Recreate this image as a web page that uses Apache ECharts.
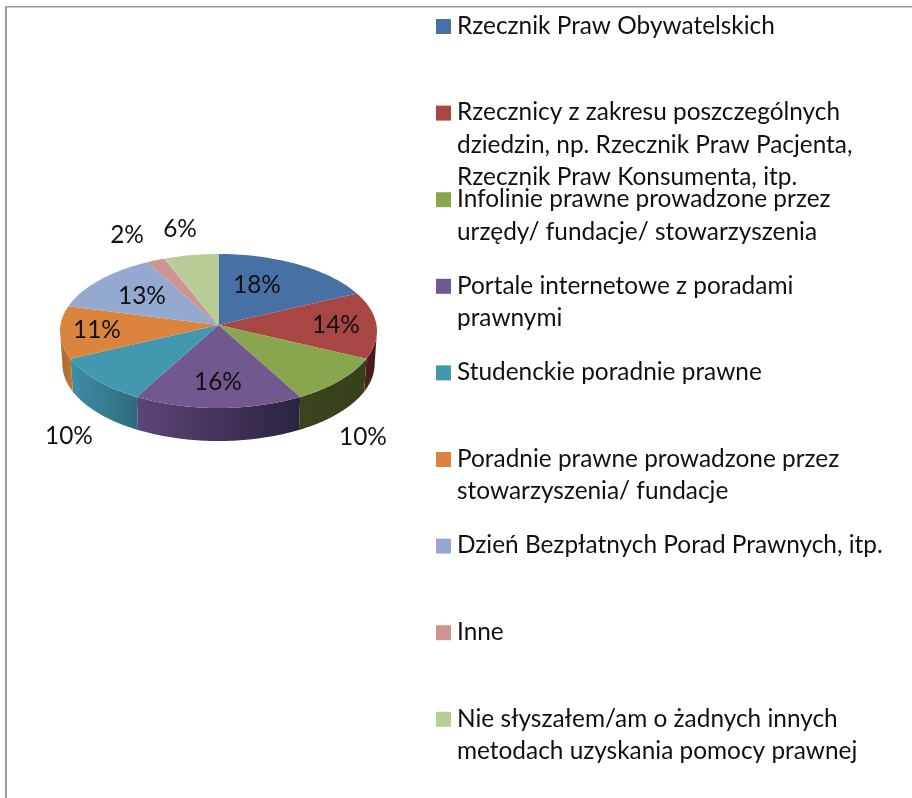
<!DOCTYPE html>
<html><head><meta charset="utf-8">
<style>html,body{margin:0;padding:0;background:#fff}#c{width:912px;height:798px}</style>
<script src="https://cdn.jsdelivr.net/npm/echarts@6/dist/echarts.min.js"></script>
</head><body><div id="c"></div>
<script>
const legendLabels = [
 'Rzecznik Praw Obywatelskich',
 'Rzecznicy z zakresu poszczególnych\ndziedzin, np. Rzecznik Praw Pacjenta,\nRzecznik Praw Konsumenta, itp.',
 'Infolinie prawne prowadzone przez\nurzędy/ fundacje/ stowarzyszenia',
 'Portale internetowe z poradami\nprawnymi',
 'Studenckie poradnie prawne',
 'Poradnie prawne prowadzone przez\nstowarzyszenia/ fundacje',
 'Dzień Bezpłatnych Porad Prawnych, itp.',
 'Inne',
 'Nie słyszałem/am o żadnych innych\nmetodach uzyskania pomocy prawnej'];
const shares = [18,14,10,16,10,11,13,2,6];
const faceColors = ['#4771A5','#A84644','#89A54E','#71588F','#4198AF','#DB843D','#93A9CF','#D19392','#B9CD96'];
const wallColors = [null,['#4f211e','#421a18'],['#3a451c','#36411a'],['#5d4577','#2a2340'],['#3f8ea8','#2f6a7c'],['#b06c2e','#bd7733'],null,null,null];

// layout of the tilted pie
const PIE = {cx:218.5, cy:331, rx:158.5, ry:77, depth:33, tilt:0.078};
const labelSpots = [[257,285],[336,325],[363,437],[218,382],[69,436],[97,330],[142,296],[127,235],[180,229]];
const LEG = {x:436, box:15, textX:457, top:26, step:86.6, lh:32.5};
const FONT = 'Lato, "Open Sans", sans-serif';
const FS = 24.4;

const total = shares.reduce((a,b)=>a+b,0);
const starts = shares.reduce((acc,s,i)=>{acc.push(i?acc[i-1]+shares[i-1]:0);return acc;},[]);
function project(t){ // t: angle clockwise from top; disc to tilted ellipse with off-centre apex
  const d=PIE.tilt,u=Math.sin(t),v=Math.cos(t),den=1+d*v;
  return [u*Math.sqrt(1-d*d)/den,(v+d)/den];
}
function rim(t,drop){
  const p=project(t);
  const k=drop?0.985:1;
  return [PIE.cx+PIE.rx*p[0]*k,PIE.cy-PIE.ry*p[1]+(drop?PIE.depth:0)];
}
function arc(a,b,drop){
  const n=Math.max(2,Math.ceil(Math.abs(b-a)/0.02)),pts=[];
  for(let i=0;i<=n;i++)pts.push(rim(a+(b-a)*i/n,drop));
  return pts;
}
const apex=[PIE.cx,PIE.cy-PIE.ry*PIE.tilt];
const wallFrom=Math.acos(-PIE.tilt), wallTo=2*Math.PI-wallFrom;

const chart=echarts.init(document.getElementById('c'),null,{renderer:'canvas'});
chart.setOption({
 animation:false,
 backgroundColor:'#fff',
 graphic:[
  {type:'rect',shape:{x:5,y:6,width:907,height:1.5},style:{fill:'#9a9a9a'},silent:true},
  {type:'rect',shape:{x:5,y:6,width:2,height:792},style:{fill:'#9a9a9a'},silent:true}
 ],
 series:[
 {type:'custom',coordinateSystem:'none',z:2,silent:true,
  data:shares.map((s,i)=>[starts[i],s]),
  renderItem(params,api){
   const i=params.dataIndex,a=api.value(0)/total*2*Math.PI,b=(api.value(0)+api.value(1))/total*2*Math.PI;
   const children=[];
   const wa=Math.max(a,wallFrom),wb=Math.min(b,wallTo);
   if(wb>wa&&wallColors[i]){
    const pts=arc(wa,wb,false).concat(arc(wa,wb,true).reverse());
    children.push({type:'polygon',shape:{points:pts},style:{fill:new echarts.graphic.LinearGradient(0,0,1,0,[{offset:0,color:wallColors[i][0]},{offset:1,color:wallColors[i][1]}])}});
   }
   children.push({type:'polygon',shape:{points:[apex].concat(arc(a,b,false))},style:{fill:faceColors[i]}});
   return {type:'group',children};
  }},
 {type:'custom',coordinateSystem:'none',z:3,silent:true,
  data:shares.map((s,i)=>[s]),
  renderItem(params,api){
   const p=labelSpots[params.dataIndex];
   return {type:'text',x:p[0],y:p[1],style:{text:api.value(0)+'%',fill:'#111',font:FS+'px '+FONT,align:'center',verticalAlign:'middle'}};
  }},
 {type:'custom',coordinateSystem:'none',z:4,silent:true,
  data:legendLabels.map((s,i)=>[i]),
  renderItem(params,api){
   const i=params.dataIndex,y=LEG.top+LEG.step*i,lines=legendLabels[i].split('\n');
   const children=[{type:'rect',shape:{x:LEG.x,y:y-LEG.box/2+0.5,width:LEG.box,height:LEG.box},style:{fill:faceColors[i]}}];
   lines.forEach((ln,k)=>children.push({type:'text',x:LEG.textX,y:y+k*LEG.lh,style:{text:ln,fill:'#111',font:FS+'px '+FONT,align:'left',verticalAlign:'middle'}}));
   return {type:'group',children};
  }}
 ]
});
</script></body></html>
